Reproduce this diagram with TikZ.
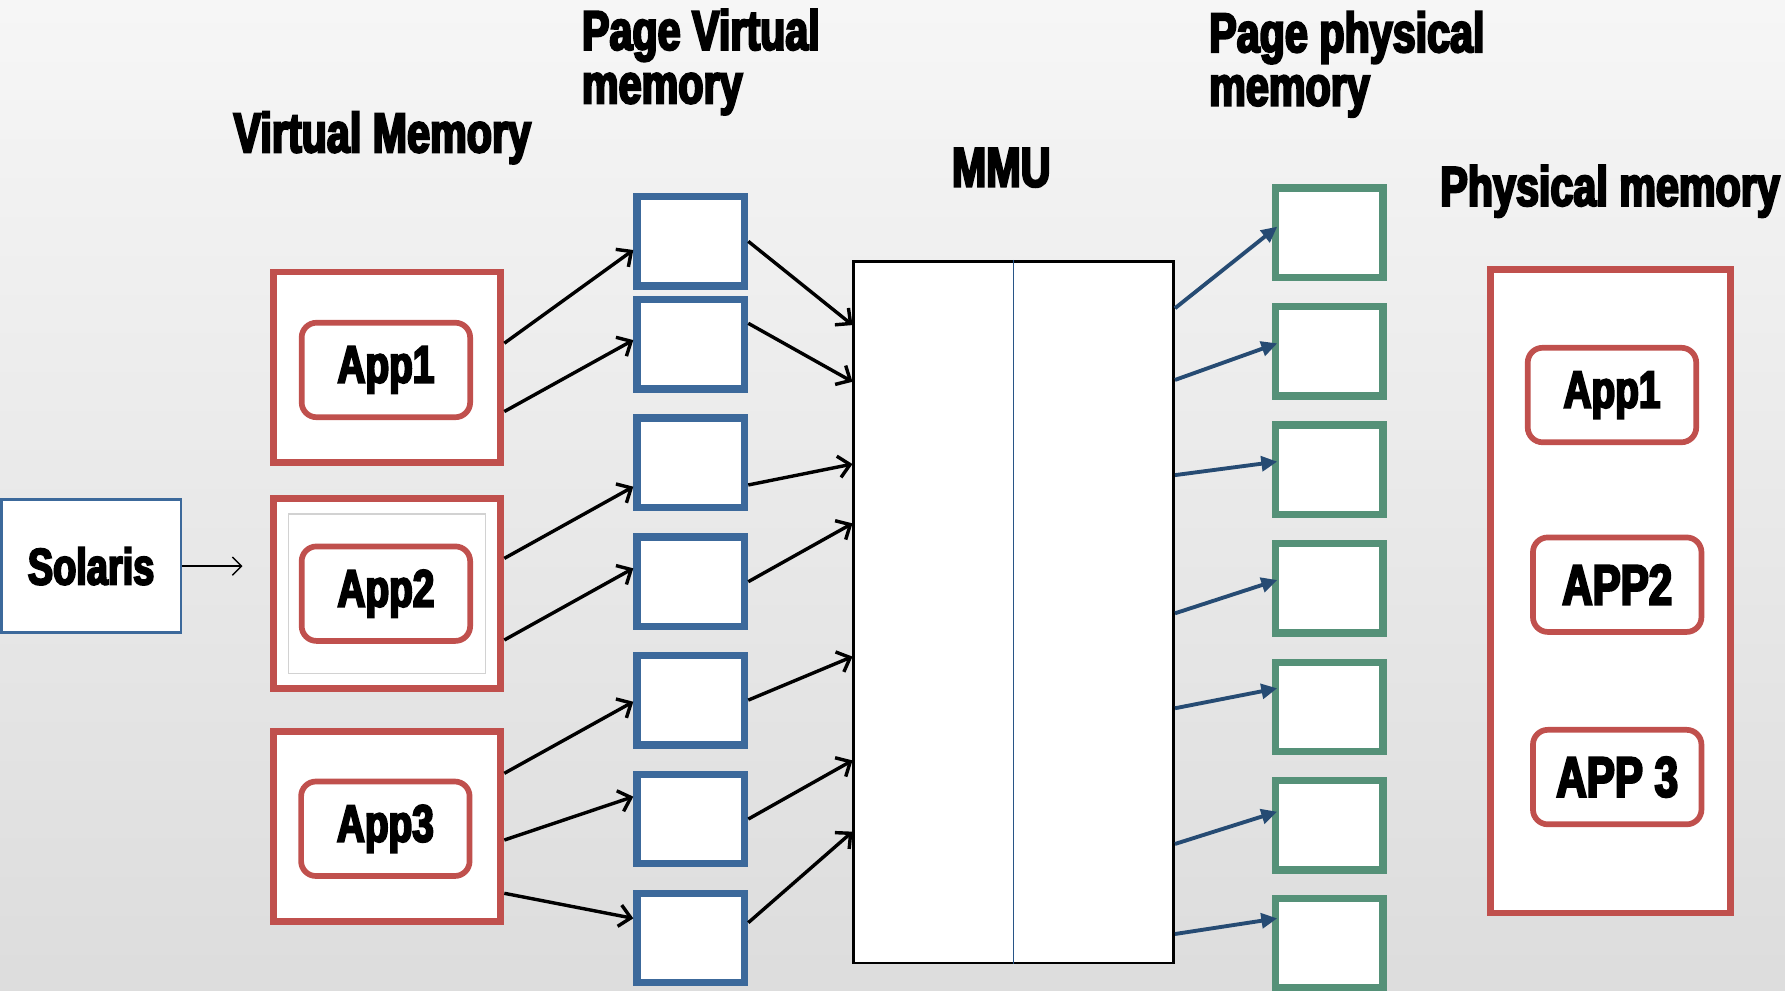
\documentclass[tikz,border=0pt]{standalone}
\usepackage{fontspec}
\newfontfamily\impactfont{Liberation Sans}[FakeStretch=0.74,BoldFeatures={FakeBold=4}]
\usetikzlibrary{arrows.meta}
\definecolor{boxred}{RGB}{192,80,77}
\definecolor{boxblue}{RGB}{60,105,155}
\definecolor{boxgreen}{RGB}{85,145,120}
\definecolor{mapblue}{RGB}{38,75,115}
\definecolor{lineblue}{RGB}{40,85,135}

\begin{document}
\begin{tikzpicture}[x=1pt,y=-1pt,
    headtext/.style={font=\impactfont\bfseries\fontsize{49}{47}\selectfont,inner sep=0pt,anchor=north west,align=left},
    apptext/.style={font=\impactfont\bfseries\fontsize{46}{46}\selectfont},
    vmem/.style={draw=boxred,line width=6pt,fill=white,minimum width=200pt,minimum height=167pt,inner sep=0pt},
    app/.style={apptext,draw=boxred,line width=5pt,fill=white,rounded corners=13pt,minimum width=148pt,minimum height=83pt,inner sep=0pt},
    vpage/.style={draw=boxblue,line width=6.5pt,fill=white,minimum width=94.5pt,minimum height=78.5pt,inner sep=0pt},
    ppage/.style={vpage,draw=boxgreen},
    tomap/.style={-{Straight Barb[length=10pt,width=19pt]},line width=3pt},
    tophys/.style={-{Triangle[length=14pt,width=13pt]},line width=3.4pt,draw=mapblue}]
  \fill[top color=gray!7,bottom color=gray!27] (0,0) rectangle (1568,870);
  \useasboundingbox (0,0) rectangle (1568,870);

  % titles
  \node[headtext] (vmemhead) at (205,98) {Virtual Memory};
  \node[headtext] (vpagehead) at (511,8) {Page Virtual\\memory};
  \node[headtext] (mmuhead) at (836,130) {MMU};
  \node[headtext] (ppagehead) at (1062,10) {Page physical\\memory};
  \node[headtext] (pmemhead) at (1265,145) {Physical memory};

  % solaris
  \node[apptext,font=\impactfont\bfseries\fontsize{45}{45}\selectfont,draw=boxblue,line width=2.5pt,fill=white,minimum width=158pt,minimum height=117pt] (solaris) at (80,497.3) {Solaris};
  \coordinate (solend) at (213,497.3);
  \draw[-{Straight Barb[length=8pt,width=16pt]},line width=1.3pt] (solaris.east) -- (solend);

  % virtual memory
  \node[vmem] (v1) at (340,322.5) {};
  \node[vmem] (v2) at (340,521.5) {};
  \node[draw=gray!35,line width=1pt,minimum width=173pt,minimum height=140pt] (v2frame) at (340,521.5) {};
  \node[vmem] (v3) at (340,726) {};
  \node[app] (a1) at (339,325) {App1};
  \node[app] (a2) at (339,521.5) {App2};
  \node[app] (a3) at (338.5,728) {App3};

  % pages of virtual memory
  \foreach \i/\y in {1/212,2/302.5,3/406.5,4/511,5/615,6/719.5,7/824}
    \node[vpage] (pv\i) at (606.8,\y) {};

  % MMU
  \node[draw,line width=2.3pt,fill=white,minimum width=281pt,minimum height=616.5pt] (mmu) at (890.5,537.75) {};
  \draw[lineblue,line width=1pt] (mmu.north) -- (mmu.south);

  % pages of physical memory
  \foreach \i/\y in {1/204.3,2/308.6,3/412.5,4/516.9,5/621,6/725,7/828.5}
    \node[ppage] (pp\i) at (1167.5,\y) {};

  % physical memory
  \node[vmem,minimum width=211pt,minimum height=565pt] (pmem) at (1414.5,519.5) {};
  \node[app] (pa1) at (1416,347) {App1};
  \node[app,font=\impactfont\bfseries\fontsize{50}{50}\selectfont] (pa2) at (1420.6,513.6) {APP2};
  \node[app,font=\impactfont\bfseries\fontsize{50}{50}\selectfont] (pa3) at (1420.6,682.6) {APP 3};

  % apps to virtual pages
  \foreach \s/\a/\t/\b in {v1/21/pv1/-7.6,v1/-39/pv2/3.8,v2/31/pv3/-21,v2/-40.7/pv4/11.8,
                           v3/46.7/pv5/-1.4,v3/-11.9/pv6/19.7,v3/-58.7/pv7/17.3}
    \draw[tomap] ([yshift=\a pt]\s.east) -- ([yshift=\b pt]\t.west);

  % virtual pages to MMU
  \foreach \s/\a/\b in {pv1/0/252.2,pv2/18.5/202.4,pv3/-19.5/130.1,pv4/0/78,
                        pv5/0/-39,pv6/0/-130.2,pv7/13.5/-192.8}
    \draw[tomap] ([yshift=\a pt]\s.east) -- ([yshift=\b pt]mmu.west);

  % MMU to physical pages
  \foreach \a/\t/\b in {267/pp1/5.2,204/pp2/7,120.4/pp3/7,-1/pp4/7.4,
                        -84.4/pp5/16.4,-203.6/pp6/12,-282.7/pp7/21.8}
    \draw[tophys] ([yshift=\a pt]mmu.east) -- ([xshift=5pt,yshift=\b pt]\t.west);
\end{tikzpicture}
\end{document}
